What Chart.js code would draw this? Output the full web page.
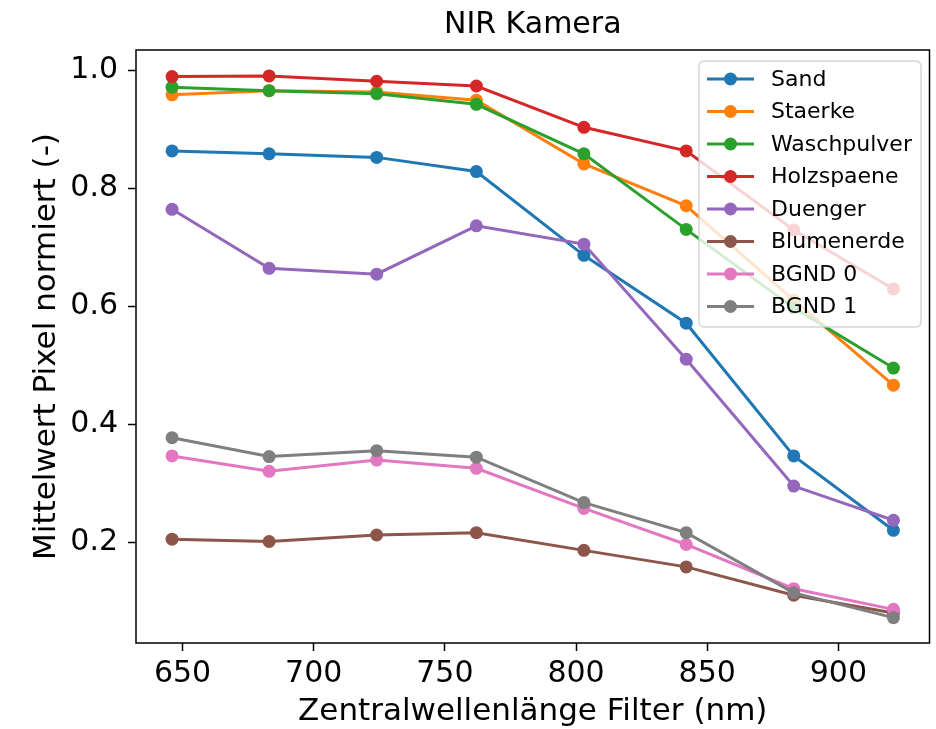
<!DOCTYPE html>
<html lang="de">
  <head>
    <meta charset="UTF-8" />
    <title>NIR Kamera</title>
    <style>
      html, body { margin: 0; padding: 0; background: #fff; }
      #wrap { width: 936px; height: 729px; position: relative; }
    </style>
  </head>
  <body>
    <div id="wrap"><canvas id="nirChart"></canvas></div>

    <script src="https://cdn.jsdelivr.net/npm/chart.js"></script>
    <script>
      // filter wavelengths (nm)
      const wavelengths = [646, 683, 724, 762, 803, 842, 883, 921];

      const seriesNames = ["Sand", "Staerke", "Waschpulver", "Holzspaene", "Duenger", "Blumenerde", "BGND 0", "BGND 1"];
      const sand = [0.863, 0.858, 0.852, 0.828, 0.686, 0.571, 0.346, 0.220];
      const staerke = [0.958, 0.965, 0.963, 0.949, 0.841, 0.770, 0.610, 0.466];
      const waschpulver = [0.971, 0.965, 0.960, 0.942, 0.858, 0.730, 0.597, 0.495];
      const holzspaene = [0.989, 0.990, 0.981, 0.973, 0.903, 0.863, 0.729, 0.629];
      const duenger = [0.764, 0.664, 0.654, 0.736, 0.705, 0.510, 0.295, 0.237];
      const blumenerde = [0.205, 0.201, 0.212, 0.216, 0.186, 0.158, 0.110, 0.080];
      const bgnd0 = [0.346, 0.320, 0.339, 0.325, 0.257, 0.196, 0.121, 0.086];
      const bgnd1 = [0.377, 0.345, 0.355, 0.344, 0.267, 0.216, 0.114, 0.072];

      const seriesValues = [sand, staerke, waschpulver, holzspaene, duenger, blumenerde, bgnd0, bgnd1];
      const colors = ["#1f77b4", "#ff7f0e", "#2ca02c", "#d62728", "#9467bd", "#8c564b", "#e377c2", "#7f7f7f"];

      const xTicks = [650, 700, 750, 800, 850, 900];
      const yTicks = [0.2, 0.4, 0.6, 0.8, 1.0];

      Chart.defaults.font.family = "'DejaVu Sans', sans-serif";
      Chart.defaults.color = "#000";

      const datasets = seriesNames.map((name, i) => ({
        label: name,
        data: wavelengths.map((x, j) => ({ x: x, y: seriesValues[i][j] })),
        borderColor: colors[i],
        backgroundColor: colors[i],
        pointBackgroundColor: colors[i],
        pointBorderWidth: 0,
        pointRadius: 6.5,
        borderWidth: 3,
        tension: 0,
        order: seriesNames.length - i, // last series on top, like matplotlib
      }));

      // frame around the plot + legend inside the axes
      const framePlugin = {
        id: "frame",
        afterDatasetsDraw(chart) {
          const { ctx, chartArea: a } = chart;
          ctx.save();
          ctx.strokeStyle = "#000";
          ctx.lineWidth = 1.5;
          ctx.strokeRect(a.left, a.top, a.right - a.left, a.bottom - a.top);
          ctx.restore();
        },
        afterDraw(chart) {
          const ctx = chart.ctx;
          const bx = 699, by = 61, bw = 222, bh = 266;
          ctx.save();
          ctx.beginPath();
          ctx.roundRect(bx, by, bw, bh, 5);
          ctx.fillStyle = "rgba(255,255,255,0.8)";
          ctx.fill();
          ctx.strokeStyle = "rgba(204,204,204,0.8)";
          ctx.lineWidth = 1.5;
          ctx.stroke();
          ctx.font = "22px 'DejaVu Sans'";
          ctx.textBaseline = "middle";
          ctx.textAlign = "left";
          seriesNames.forEach((name, i) => {
            const y = 79 + i * 32.5;
            ctx.strokeStyle = colors[i];
            ctx.lineWidth = 3;
            ctx.beginPath();
            ctx.moveTo(707, y);
            ctx.lineTo(754, y);
            ctx.stroke();
            ctx.fillStyle = colors[i];
            ctx.beginPath();
            ctx.arc(730.5, y, 6.5, 0, Math.PI * 2);
            ctx.fill();
            ctx.fillStyle = "#000";
            ctx.fillText(name, 771, y + 1);
          });
          ctx.restore();
        },
      };

      new Chart(document.getElementById("nirChart"), {
        type: "line",
        data: { datasets: datasets },
        options: {
          responsive: true,
          maintainAspectRatio: false,
          animation: false,
          layout: { padding: { left: 0, right: 3, top: 0, bottom: 0 } },
          plugins: {
            legend: { display: false },
            tooltip: { enabled: false },
            title: {
              display: true,
              text: "NIR Kamera",
              fullSize: false,
              font: { size: 30, weight: "normal" },
              color: "#000",
              padding: { top: 7, bottom: 7 },
            },
          },
          scales: {
            x: {
              type: "linear",
              min: 632.25,
              max: 934.75,
              afterBuildTicks: (s) => { s.ticks = xTicks.map((v) => ({ value: v })); },
              afterFit: (s) => { s.height = 86; },
              ticks: { font: { size: 30 }, color: "#000", padding: 5, maxRotation: 0, includeBounds: false },
              grid: { drawOnChartArea: false, drawTicks: true, tickLength: 8, tickColor: "#000", tickWidth: 1.5 },
              border: { display: false },
              title: {
                display: true,
                text: "Zentralwellenlänge Filter (nm)",
                font: { size: 31, lineHeight: 1 },
                color: "#000",
                padding: { top: 0, bottom: 2 },
              },
            },
            y: {
              min: 0.029,
              max: 1.034,
              afterBuildTicks: (s) => { s.ticks = yTicks.map((v) => ({ value: v })); },
              afterFit: (s) => { s.width = 136; },
              ticks: { font: { size: 30 }, color: "#000", padding: 10, callback: (v) => v.toFixed(1) },
              grid: { drawOnChartArea: false, drawTicks: true, tickLength: 8, tickColor: "#000", tickWidth: 1.5 },
              border: { display: false },
              title: {
                display: true,
                text: "Mittelwert Pixel normiert (-)",
                font: { size: 31, lineHeight: 1 },
                color: "#000",
                padding: { top: 31, bottom: 0 },
              },
            },
          },
        },
        plugins: [framePlugin],
      });
    </script>
  </body>
</html>
